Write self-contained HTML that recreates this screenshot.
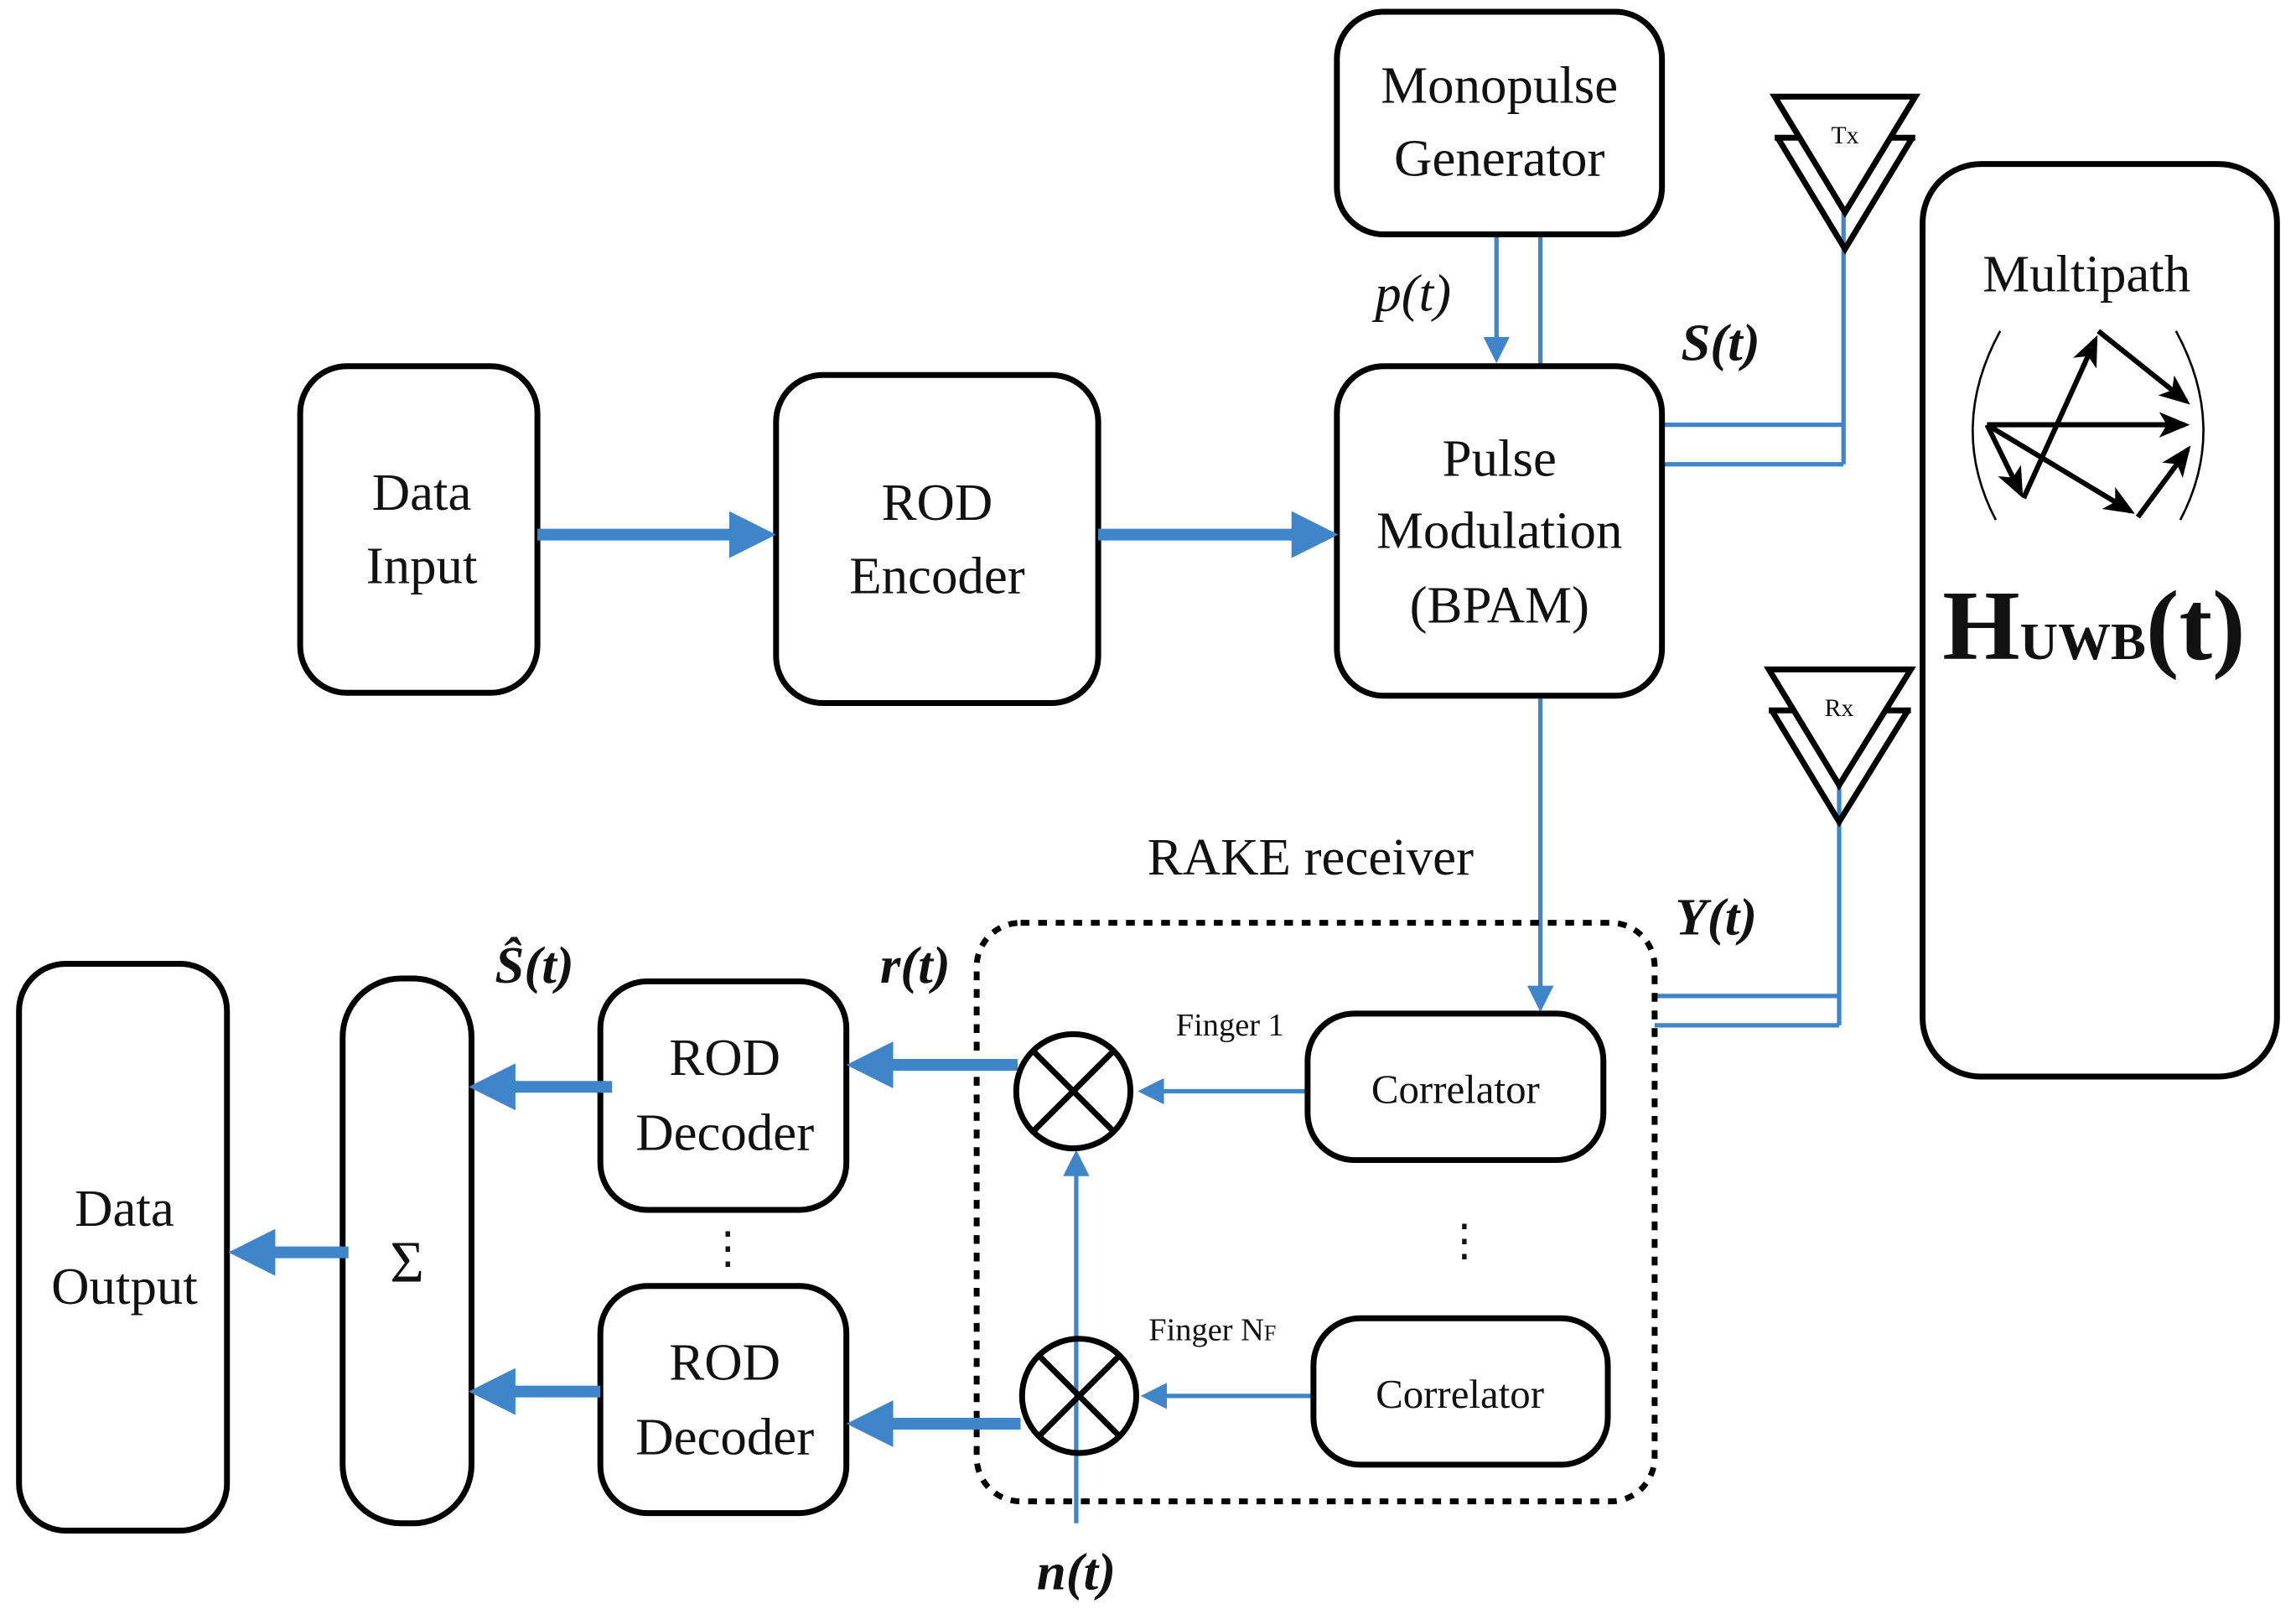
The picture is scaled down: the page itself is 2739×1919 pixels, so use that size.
<!DOCTYPE html>
<html><head><meta charset="utf-8"><style>
html,body{margin:0;padding:0;background:#fff}
svg{display:block}
text{font-family:"Liberation Serif","Times New Roman",Times,serif;fill:#111}
</style></head><body>
<svg width="2739" height="1919" viewBox="0 0 1568 1098.5" preserveAspectRatio="none" xmlns="http://www.w3.org/2000/svg" font-family="Liberation Serif, serif">
<defs>
<marker id="ab" markerWidth="4" markerHeight="4" refX="3" refY="2" orient="auto" markerUnits="strokeWidth"><path d="M0,0 L4,2 L0,4 Z" fill="#3f85c9"/></marker>
<marker id="abt" markerWidth="6" markerHeight="6" refX="5" refY="3" orient="auto" markerUnits="strokeWidth"><path d="M0,0 L6,3 L0,6 Z" fill="#3f85c9"/></marker>
<marker id="ak" markerWidth="6" markerHeight="6" refX="5" refY="3" orient="auto" markerUnits="strokeWidth"><path d="M0,0.5 L6,3 L0,5.5 L1.5,3 Z" fill="#000"/></marker>
</defs>
<g fill="none" stroke="#3f85c9" stroke-width="3">
<path d="M1259,145 V317 M1135,290 H1259 M1135,317 H1259"/>
<path d="M1256,536 V700 M1130,680 H1256 M1130,700 H1256"/>
<path d="M1052,160 V250"/>
<path d="M1022,160 V245" marker-end="url(#abt)"/>
<path d="M1052,477 V688" marker-end="url(#abt)"/>
<path d="M893,745 H780" marker-end="url(#abt)"/>
<path d="M897,953 H782" marker-end="url(#abt)"/>
<path d="M735,1040 V788" marker-end="url(#abt)"/>
</g>
<g fill="none" stroke="#000" stroke-width="4">
<rect x="913" y="8" width="222" height="152" rx="32"/>
<rect x="1313" y="112" width="242" height="623" rx="40"/>
<rect x="205" y="250" width="162" height="223" rx="32"/>
<rect x="530" y="256" width="220" height="224" rx="32"/>
<rect x="913" y="250" width="222" height="225" rx="32"/>
<rect x="893" y="692" width="202" height="100" rx="32"/>
<rect x="897" y="900" width="201" height="100" rx="32"/>
<rect x="410" y="670" width="168" height="156" rx="32"/>
<rect x="410" y="878" width="168" height="155" rx="32"/>
<rect x="234" y="668" width="88" height="372" rx="40"/>
<rect x="13" y="658" width="142" height="387" rx="32"/>
<rect x="667" y="630" width="463" height="395" rx="30" stroke-dasharray="6,6"/>
<!-- antennas -->
<path d="M1212,66 L1308,66 L1260,145 Z"/>
<path d="M1214,94 L1260,170 L1306,94 M1212,94 H1229 M1308,94 H1291"/>
<path d="M1208,457 L1305,457 L1256,536 Z"/>
<path d="M1210,485 L1256,561 L1303,485 M1208,485 H1225 M1305,485 H1288"/>
</g>
<g fill="none" stroke="#3f85c9" stroke-width="8">
<path d="M367,365 H522" marker-end="url(#ab)"/>
<path d="M750,365 H906" marker-end="url(#ab)"/>
<path d="M695,727 H586" marker-end="url(#ab)"/>
<path d="M697,972 H586" marker-end="url(#ab)"/>
<path d="M418,742 H328" marker-end="url(#ab)"/>
<path d="M410,950 H328" marker-end="url(#ab)"/>
<path d="M238,855 H164" marker-end="url(#ab)"/>
</g>
<g fill="none" stroke="#000" stroke-width="4">
<circle cx="733" cy="745" r="39"/>
<path d="M705,717 L761,773 M761,717 L705,773"/>
<circle cx="737" cy="953" r="39"/>
<path d="M709,925 L765,981 M765,925 L709,981"/>
</g>
<g fill="none" stroke="#000" stroke-width="3.5">
<path d="M1357,290 H1492" marker-end="url(#ak)"/>
<path d="M1357,290 L1380,337" marker-end="url(#ak)"/>
<path d="M1382,340 L1431,232" marker-end="url(#ak)"/>
<path d="M1433,226 L1493,274" marker-end="url(#ak)"/>
<path d="M1357,290 L1455,349" marker-end="url(#ak)"/>
<path d="M1460,353 L1494,307" marker-end="url(#ak)"/>
<path d="M1366,226 Q1330,292 1363,355" stroke-width="1.5"/>
<path d="M1486,226 Q1522,292 1489,355" stroke-width="1.5"/>
</g>
<g font-size="36" text-anchor="middle">
<text x="1024" y="70">Monopulse</text>
<text x="1024" y="120">Generator</text>
<text x="1425" y="199">Multipath</text>
<text x="288" y="348">Data</text>
<text x="288" y="398">Input</text>
<text x="640" y="355">ROD</text>
<text x="640" y="405">Encoder</text>
<text x="1024" y="325">Pulse</text>
<text x="1024" y="374">Modulation</text>
<text x="1024" y="425">(BPAM)</text>
<text x="895" y="597">RAKE receiver</text>
<text x="495" y="734">ROD</text>
<text x="495" y="785">Decoder</text>
<text x="495" y="942">ROD</text>
<text x="495" y="993">Decoder</text>
<text x="85" y="837">Data</text>
<text x="85" y="890">Output</text>
<text x="278" y="875" font-size="40">Σ</text>
<text x="994" y="753" font-size="28">Correlator</text>
<text x="997" y="961" font-size="28">Correlator</text>
<text x="965" y="212" font-style="italic">p(t)</text>
<text x="497" y="862" font-size="30">⋮</text>
<text x="1000" y="857" font-size="30">⋮</text>
</g>
<g font-size="36" text-anchor="middle" font-weight="bold" font-style="italic">
<text x="1175" y="246">S(t)</text>
<text x="1172" y="638">Y(t)</text>
<text x="625" y="671">r(t)</text>
<text x="365" y="671">Ŝ(t)</text>
<text x="735" y="1085">n(t)</text>
</g>
<text x="1430" y="450" font-size="68" font-weight="bold" text-anchor="middle">H<tspan font-size="36">UWB</tspan>(t)</text>
<text x="1260" y="98" font-size="17" text-anchor="middle">Tx</text>
<text x="1256" y="489" font-size="17" text-anchor="middle">Rx</text>
<text x="840" y="707" font-size="22" text-anchor="middle">Finger 1</text>
<text x="828" y="915" font-size="22" text-anchor="middle">Finger N<tspan font-size="15">F</tspan></text>
</svg>
</body></html>
